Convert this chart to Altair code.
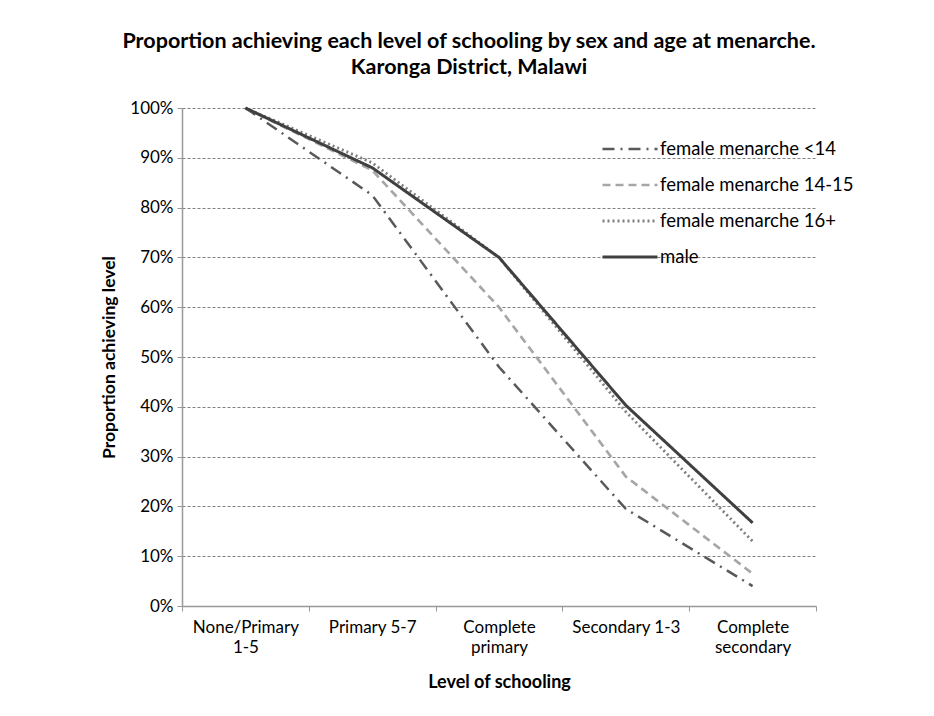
import altair as alt
import pandas as pd

levels = ["None/Primary 1-5", "Primary 5-7", "Complete primary", "Secondary 1-3", "Complete secondary"]
series = ["female menarche <14", "female menarche 14-15", "female menarche 16+", "male"]
female_lt14 = [1.00, 0.825, 0.48, 0.195, 0.04]
female_14_15 = [1.00, 0.875, 0.60, 0.26, 0.065]
female_16p = [1.00, 0.89, 0.70, 0.39, 0.13]
male = [1.00, 0.88, 0.70, 0.403, 0.167]

colors = ["#595959", "#a6a6a6", "#7f7f7f", "#404040"]
dashes = [[12, 6, 2, 6], [8, 5], [2, 3], [1, 0]]
widths = [2.5, 3, 2, 2.5]

rows = []
for name, vals in zip(series, [female_lt14, female_14_15, female_16p, male]):
    for lev, v in zip(levels, vals):
        rows.append({"level": lev, "series": name, "value": v})
df = pd.DataFrame(rows)

label_expr = (
    "datum.value == 'None/Primary 1-5' ? ['None/Primary', '1-5'] : "
    "datum.value == 'Complete primary' ? ['Complete', 'primary'] : "
    "datum.value == 'Complete secondary' ? ['Complete', 'secondary'] : datum.label"
)

chart = alt.Chart(df).mark_line(clip=False).encode(
    x=alt.X("level:N", sort=levels,
            scale=alt.Scale(type="band", paddingInner=0, paddingOuter=0),
            axis=alt.Axis(title="Level of schooling", labelAngle=0, labelExpr=label_expr,
                          tickBand="extent", labelPadding=8, labelLineHeight=20,
                          titlePadding=18)),
    y=alt.Y("value:Q", scale=alt.Scale(domain=[0, 1], nice=False),
            axis=alt.Axis(title="Proportion achieving level", format=".0%",
                          values=[0, 0.1, 0.2, 0.3, 0.4, 0.5, 0.6, 0.7, 0.8, 0.9, 1.0],
                          titlePadding=11, labelPadding=4, titleFontSize=17.5)),
    color=alt.Color("series:N", scale=alt.Scale(domain=series, range=colors),
                    legend=alt.Legend(title=None, orient="none", legendX=419, legendY=31,
                                      symbolType="stroke", symbolSize=3025,
                                      symbolStrokeWidth=2.5, clipHeight=20,
                                      rowPadding=16, labelOffset=1, padding=0)),
    strokeDash=alt.StrokeDash("series:N", scale=alt.Scale(domain=series, range=dashes)),
    strokeWidth=alt.StrokeWidth("series:N", scale=alt.Scale(domain=series, range=widths),
                                legend=None),
).properties(
    width=634,
    height=498,
    padding={"left": 92, "top": 22, "right": 5, "bottom": 5},
    title=alt.Title(["Proportion achieving each level of schooling by sex and age at menarche.",
                     "Karonga District, Malawi"],
                    anchor="middle", dx=-30, offset=21, fontSize=21.5, lineHeight=26,
                    font="Lato", fontWeight="bold", color="#000000"),
).configure_view(
    stroke=None
).configure_axis(
    labelFont="Lato", labelFontSize=17, labelColor="#000000",
    titleFont="Lato", titleFontSize=18, titleFontWeight="bold", titleColor="#000000",
    domainColor="#999999", domainWidth=1.5, tickColor="#999999", tickSize=5,
).configure_axisY(
    grid=True, gridColor="#808080", gridDash=[3, 2], gridWidth=1,
).configure_axisX(
    grid=False,
).configure_legend(
    labelFont="Lato", labelFontSize=18.5, labelColor="#000000", labelLimit=300,
)

chart.save("out.html", embed_options={"renderer": "svg", "actions": False})
